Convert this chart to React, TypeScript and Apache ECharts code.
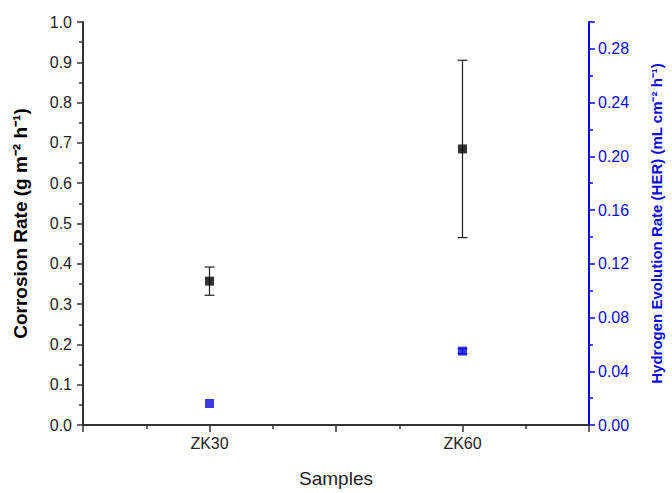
import React, { useEffect, useRef } from "react";
import * as echarts from "echarts";

const categories = ["ZK30", "ZK60"];
const categoryPos = [1, 3];
const corrosionRate = [0.357, 0.685];
const corrosionErr = [0.035, 0.22];
const herRate = [0.016, 0.055];
const herErr = [0, 0.0018];

const BLUE = "#0a0ae0";
const FONT = "'Liberation Sans', Arial, sans-serif";

export default function App() {
  const ref = useRef<HTMLDivElement>(null);
  useEffect(() => {
    const chart = echarts.init(ref.current!, null, { renderer: "svg" });
    const corrData = categoryPos.map((x, i) => [x, corrosionRate[i]]);
    const herData = categoryPos.map((x, i) => [x, herRate[i]]);
    const corrErrData = categoryPos.map((x, i) => [x, corrosionRate[i] - corrosionErr[i], corrosionRate[i] + corrosionErr[i]]);
    const herErrData = categoryPos.map((x, i) => [x, herRate[i] - herErr[i], herRate[i] + herErr[i]]);
    const errRender = (color: string) => (params: any, api: any) => {
      const x = api.value(0);
      const lo = api.coord([x, api.value(1)]);
      const hi = api.coord([x, api.value(2)]);
      if (Math.abs(lo[1] - hi[1]) < 0.5) return { type: "group", children: [] };
      const w = 5;
      const style = { stroke: color, lineWidth: 1.2 };
      return {
        type: "group",
        children: [
          { type: "line", shape: { x1: lo[0], y1: lo[1], x2: hi[0], y2: hi[1] }, style },
          { type: "line", shape: { x1: lo[0] - w, y1: lo[1], x2: lo[0] + w, y2: lo[1] }, style },
          { type: "line", shape: { x1: hi[0] - w, y1: hi[1], x2: hi[0] + w, y2: hi[1] }, style },
        ],
      };
    };
    chart.setOption({
      animation: false,
      grid: { left: 83, right: 82, top: 22, bottom: 61 },
      xAxis: {
        type: "value",
        min: 0,
        max: 4,
        interval: 1,
        name: "Samples",
        nameLocation: "middle",
        nameGap: 44,
        nameTextStyle: { fontFamily: FONT, fontSize: 19, color: "#222" },
        splitLine: { show: false },
        axisLine: { lineStyle: { color: "#333", width: 2 } },
        axisTick: { show: true, inside: false, length: 7, lineStyle: { color: "#333", width: 1.5 } },
        minorTick: { show: true, splitNumber: 2, length: 4, lineStyle: { color: "#333", width: 1.5 } },
        axisLabel: {
          fontFamily: FONT,
          fontSize: 16,
          color: "#222",
          margin: 10,
          formatter: (v: number) => {
            const i = categoryPos.indexOf(v);
            return i >= 0 ? categories[i] : "";
          },
        },
      },
      yAxis: [
        {
          type: "value",
          min: 0,
          max: 1.0,
          interval: 0.1,
          name: "Corrosion Rate (g m\u207B\u00B2 h\u207B\u00B9)",
          nameLocation: "middle",
          nameGap: 53,
          nameTextStyle: { fontFamily: FONT, fontSize: 19, fontWeight: "bold", color: "#000" },
          splitLine: { show: false },
          axisLine: { show: true, lineStyle: { color: "#333", width: 2 } },
          axisTick: { show: true, length: 6, lineStyle: { color: "#333", width: 1.5 } },
          minorTick: { show: true, splitNumber: 2, length: 4, lineStyle: { color: "#333", width: 1.5 } },
          axisLabel: { fontFamily: FONT, fontSize: 16, color: "#222", margin: 11, formatter: (v: number) => v.toFixed(1) },
        },
        {
          type: "value",
          min: 0,
          max: 0.3,
          interval: 0.04,
          position: "right",
          name: "Hydrogen Evolution Rate (HER) (mL cm\u207B\u00B2 h\u207B\u00B9)",
          nameLocation: "middle",
          nameGap: 60,
          nameRotate: 90,
          nameTextStyle: { fontFamily: FONT, fontSize: 15, fontWeight: "bold", color: BLUE },
          splitLine: { show: false },
          axisLine: { show: true, lineStyle: { color: BLUE, width: 2 } },
          axisTick: { show: true, length: 6, lineStyle: { color: BLUE, width: 1.5 } },
          minorTick: { show: true, splitNumber: 2, length: 4, lineStyle: { color: BLUE, width: 1.5 } },
          axisLabel: {
            fontFamily: FONT,
            fontSize: 16,
            color: BLUE,
            margin: 9,
            showMaxLabel: false,
            formatter: (v: number) => (Math.abs(v - 0.3) < 1e-9 ? "" : v.toFixed(2)),
          },
        },
      ],
      series: [
        {
          type: "custom",
          yAxisIndex: 0,
          data: corrErrData,
          renderItem: errRender("#222"),
          z: 1,
        },
        {
          type: "scatter",
          yAxisIndex: 0,
          data: corrData,
          symbol: "rect",
          symbolSize: 9,
          itemStyle: { color: "#000" },
          z: 2,
        },
        {
          type: "custom",
          yAxisIndex: 1,
          data: herErrData,
          renderItem: errRender(BLUE),
          z: 1,
        },
        {
          type: "scatter",
          yAxisIndex: 1,
          data: herData,
          symbol: "rect",
          symbolSize: 9,
          itemStyle: { color: BLUE },
          z: 2,
        },
      ],
    });
    return () => chart.dispose();
  }, []);
  return <div ref={ref} style={{ width: 672, height: 493, position: "absolute", left: 0, top: 0, background: "#fff" }} />;
}
